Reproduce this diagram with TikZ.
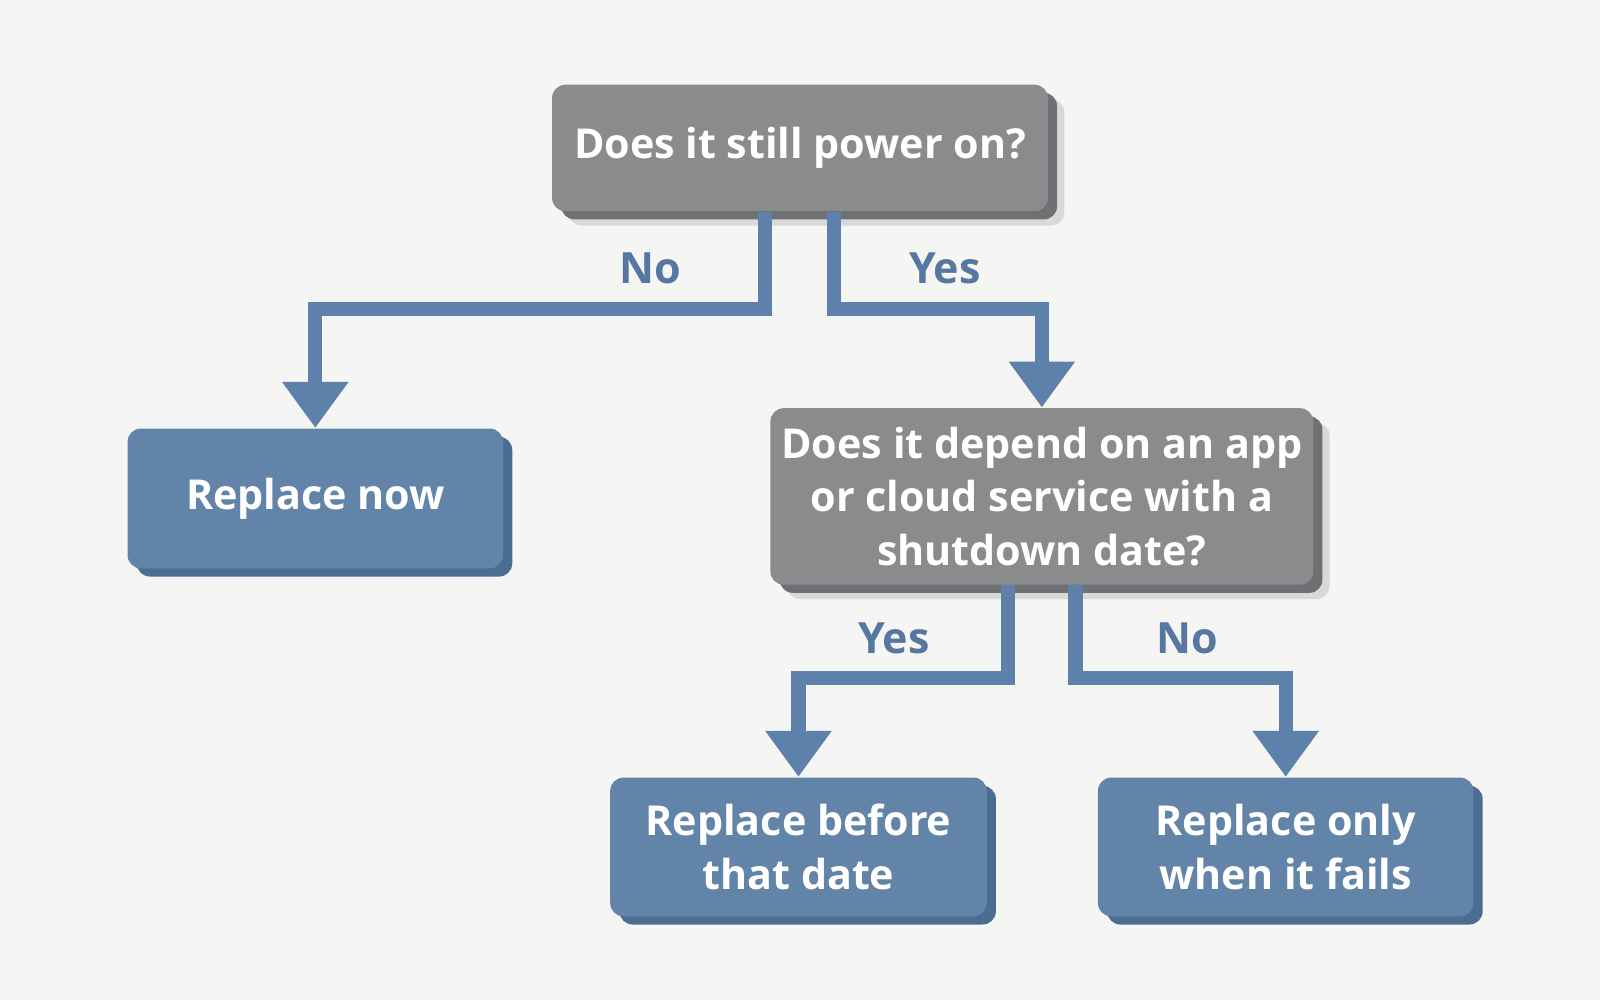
\documentclass[tikz,border=0pt]{standalone}
\usepackage{fontspec}
\setmainfont{Open Sans}
\usetikzlibrary{positioning,arrows.meta}

\definecolor{bgcol}{HTML}{F5F5F3}
\definecolor{qgray}{HTML}{898B8D}
\definecolor{qgraydk}{HTML}{6E7073}
\definecolor{ablue}{HTML}{6284A9}
\definecolor{abluedk}{HTML}{4C6D92}
\definecolor{lineblue}{HTML}{5E81AB}
\definecolor{labblue}{HTML}{56779F}

\tikzset{
  box/.style={rounded corners=0.13cm, inner sep=0pt, align=center,
    text=white, font=\fontsize{11.5}{15}\selectfont\bfseries},
  question/.style={box, fill=qgray,
    preaction={fill=black!15, transform canvas={shift={(0.16,-0.14)}}},
    preaction={fill=qgraydk, transform canvas={shift={(0.09,-0.08)}}}},
  answer/.style={box, fill=ablue,
    preaction={fill=abluedk, transform canvas={shift={(0.09,-0.08)}}}},
  flow/.style={draw=lineblue, line width=0.14cm,
    -{Triangle[width=0.62cm,length=0.45cm]}},
  lab/.style={text=labblue, font=\fontsize{12}{14}\selectfont\bfseries}
}

\begin{document}
\begin{tikzpicture}
\fill[bgcol] (0,0) rectangle (15.68,-9.8);
\useasboundingbox (0,0) rectangle (15.68,-9.8);
%----questions----------------------------------
\node[question, minimum width=4.86cm, minimum height=1.24cm] (power) at (7.84,-1.45)
  {Does it still power on?};
\node[question, minimum width=5.32cm, minimum height=1.73cm] (cloud) at (10.21,-4.865)
  {Does it depend on an app\\or cloud service with a\\shutdown date?};
%----answers------------------------------------
\node[answer, minimum width=3.68cm, minimum height=1.37cm] (now) at (3.09,-4.885)
  {Replace now};
\node[answer, minimum width=3.69cm, minimum height=1.36cm] (before) at (7.825,-8.3)
  {Replace before\\that date};
\node[answer, minimum width=3.68cm, minimum height=1.36cm] (fails) at (12.60,-8.3)
  {Replace only\\when it fails};
%----connectors---------------------------------
\draw[flow] ([xshift=-0.34cm]power.south) -- ++(0,-0.95) -| (now.north);
\draw[flow] ([xshift=0.33cm]power.south) -- ++(0,-0.95) -| (cloud.north);
\draw[flow] ([xshift=-0.33cm]cloud.south) -- ++(0,-0.91) -| (before.north);
\draw[flow] ([xshift=0.33cm]cloud.south) -- ++(0,-0.91) -| (fails.north);
%----labels-------------------------------------
\node[lab] (lno1) at (6.37,-2.63) {No};
\node[lab] (lyes1) at (9.26,-2.63) {Yes};
\node[lab] (lyes2) at (8.76,-6.26) {Yes};
\node[lab] (lno2) at (11.64,-6.26) {No};
\end{tikzpicture}
\end{document}
